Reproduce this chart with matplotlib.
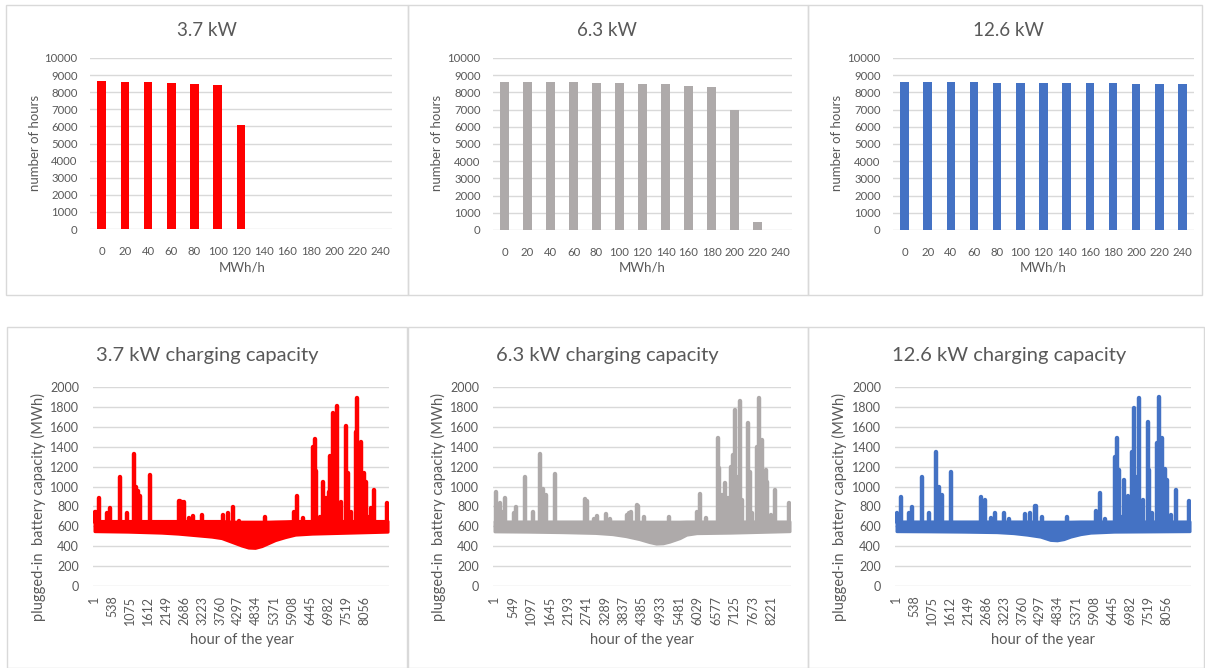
import numpy as np
import matplotlib.pyplot as plt
from matplotlib.patches import Rectangle

plt.rcParams['font.family'] = ['Lato', 'DejaVu Sans']

W, H = 1205, 668
TXT = '#595959'
GRID = '#d9d9d9'

# top row: hours per MWh/h bin
bins = [0, 20, 40, 60, 80, 100, 120, 140, 160, 180, 200, 220, 240]
hours_37 = [8635, 8616, 8577, 8538, 8499, 8440, 6101, 0, 0, 0, 0, 0, 0]
hours_63 = [8616, 8577, 8577, 8577, 8538, 8538, 8499, 8460, 8401, 8285, 6979, 487, 0]
hours_126 = [8621, 8583, 8583, 8583, 8544, 8544, 8544, 8544, 8544, 8544, 8505, 8505, 8466]

# bottom row: hourly band (low / high envelope) + spikes
env_h_37 = [1, 1000, 2000, 2500, 3000, 3500, 3800, 4000, 4200, 4400, 4600, 4800, 5000,
            5200, 5400, 5700, 6000, 6500, 8760]
low_37 = [550, 545, 535, 525, 510, 495, 480, 455, 430, 405, 385, 382, 400,
          430, 460, 490, 515, 525, 545]
high_37 = [655, 655, 655, 655, 655, 655, 655, 650, 648, 648, 648, 648, 648,
           648, 650, 652, 655, 655, 655]

env_h_63 = [1, 1000, 2000, 3000, 3500, 3900, 4300, 4600, 4800, 5000, 5200, 5500,
            5700, 6000, 7000, 8760]
low_63 = [548, 545, 540, 532, 520, 500, 470, 440, 425, 428, 445, 480,
          515, 530, 535, 550]
high_63 = [650, 650, 650, 650, 650, 650, 648, 648, 648, 648, 648, 648,
           650, 650, 650, 650]

env_h_126 = [1, 1000, 2000, 3000, 3500, 3900, 4300, 4600, 4800, 5000, 5200, 5500,
             5800, 6500, 8760]
low_126 = [550, 548, 545, 540, 530, 515, 495, 462, 458, 470, 495, 520,
           535, 545, 550]
high_126 = [650, 650, 650, 650, 650, 650, 648, 648, 648, 648, 648, 650,
            650, 650, 650]

spike_h_37 = [30, 59, 138, 385, 454, 769, 977, 1193, 1240, 1292,
              1371, 1657, 2515, 2560, 2620, 2663, 2841, 2940, 3226, 3857,
              3986, 4134, 4321, 5090, 5958, 6057, 6224, 6540, 6600, 6630,
              6738, 6816, 6915, 6994, 7044, 7090, 7133, 7190, 7260, 7359,
              7507, 7586, 7655, 7803, 7853, 7951, 8050, 8119, 8198, 8277,
              8346, 8740]
spike_v_37 = [740, 747, 884, 733, 787, 1095, 733, 1327, 1000, 958,
              905, 1116, 854, 850, 845, 840, 687, 703, 713, 713,
              737, 791, 657, 690, 747, 908, 687, 1400, 1474, 1160,
              697, 1042, 881, 948, 1307, 1100, 1735, 1000, 1809, 848,
              1608, 1132, 747, 1551, 1886, 1451, 1132, 1049, 697, 780,
              965, 831]

spike_h_63 = [59, 157, 225, 304, 578, 647, 921, 1136, 1352, 1450,
              1529, 1793, 2675, 2754, 2949, 3047, 3322, 3440, 3930, 3999,
              4068, 4224, 4253, 4439, 5174, 6017, 6115, 6282, 6625, 6674,
              6752, 6840, 6919, 7017, 7076, 7143, 7220, 7290, 7359, 7525,
              7584, 7653, 7780, 7848, 7946, 8045, 8094, 8192, 8339, 8731]
spike_v_63 = [948, 837, 747, 881, 737, 791, 1095, 740, 1327, 971,
              915, 1126, 874, 854, 670, 703, 720, 670, 713, 737,
              747, 814, 807, 690, 690, 747, 921, 687, 1484, 1183,
              918, 1032, 881, 1200, 1318, 1769, 1100, 1863, 864, 1635,
              1150, 730, 1400, 1886, 1468, 1166, 1049, 713, 965, 838]

spike_h_126 = [30, 128, 376, 465, 761, 968, 1184, 1283, 1352, 1628,
               2516, 2634, 2831, 2939, 3205, 3353, 3831, 3980, 4147, 4176,
               4344, 5102, 5951, 6080, 6218, 6543, 6592, 6661, 6730, 6809,
               6927, 7026, 7106, 7180, 7254, 7353, 7501, 7550, 7629, 7777,
               7846, 7945, 8024, 8093, 8191, 8339, 8734]
spike_v_126 = [737, 891, 737, 797, 1099, 737, 1350, 991, 915, 1142,
               891, 864, 680, 730, 730, 670, 720, 737, 804, 804,
               697, 690, 754, 931, 670, 1300, 1484, 1166, 697, 1065,
               905, 1350, 1786, 1100, 1886, 864, 1652, 1166, 730, 1434,
               1896, 1484, 1172, 1065, 713, 965, 858]

ticks_a = list(range(1, 8100, 537))
ticks_b = list(range(1, 8300, 548))

RED, GREY, BLUE = '#ff0000', '#aeaaaa', '#4472c4'


def box(l, t, r, b):
    return [l / W, 1 - b / H, (r - l) / W, (b - t) / H]


def ftext(x, y, s, **kw):
    fig.text(x / W, 1 - y / H, s, color=TXT, ha='center', va='center', **kw)


def clean(ax):
    for s in ax.spines.values():
        s.set_visible(False)
    ax.tick_params(length=0, colors=TXT)
    ax.grid(axis='y', color=GRID, lw=1)
    ax.set_axisbelow(True)


fig = plt.figure(figsize=(W / 100, H / 100), dpi=100)

# panel frames
for l, t, r, b in [(6, 5, 408, 295), (408, 5, 808, 295), (808, 5, 1202, 295),
                   (7, 327, 407, 668), (408, 327, 808, 668), (808, 327, 1204, 668)]:
    fig.add_artist(Rectangle((l / W, 1 - b / H), (r - l) / W, (b - t) / H,
                             transform=fig.transFigure, fill=False,
                             edgecolor=GRID, lw=1))

top = [
    ((90, 58, 392, 229), hours_37, RED, '3.7 kW', 207, 35, 242),
    ((493, 58, 792, 230), hours_63, GREY, '6.3 kW', 607, 437, 642),
    ((893, 58, 1194, 230), hours_126, BLUE, '12.6 kW', 1008, 837, 1043),
]
for rect, vals, col, title, tx, yx, xx in top:
    ax = fig.add_axes(box(*rect))
    clean(ax)
    ax.bar(bins, vals, width=7.4, color=col)
    ax.set_xlim(-10, 250)
    ax.set_ylim(0, 10000)
    ax.set_yticks(range(0, 10001, 1000))
    ax.set_xticks(bins)
    ax.tick_params(labelsize=8.2)
    ax.tick_params(axis='x', pad=12)
    ax.tick_params(axis='y', pad=9)
    ftext(tx, 30, title, fontsize=13.5)
    ftext(yx, 143, 'number of hours', fontsize=9.5, rotation=90)
    ftext(xx, 267, 'MWh/h', fontsize=9.5)

bottom = [
    ((93, 387, 389, 586), env_h_37, low_37, high_37, spike_h_37, spike_v_37, RED,
     ticks_a, '3.7 kW charging capacity', 207, 38, 242),
    ((493, 387, 791, 586), env_h_63, low_63, high_63, spike_h_63, spike_v_63, GREY,
     ticks_b, '6.3 kW charging capacity', 607, 438, 642),
    ((895, 387, 1191, 586), env_h_126, low_126, high_126, spike_h_126, spike_v_126, BLUE,
     ticks_a, '12.6 kW charging capacity', 1009, 839, 1043),
]
for rect, eh, lo, hi, sh, sv, col, ticks, title, tx, yx, xx in bottom:
    ax = fig.add_axes(box(*rect))
    clean(ax)
    ax.fill_between(eh, lo, hi, color=col, lw=2, edgecolor=col)
    ax.vlines(sh, 640, sv, color=col, lw=3.2, capstyle='round')
    ax.set_xlim(-40, 8800)
    ax.set_ylim(0, 2000)
    ax.set_yticks(range(0, 2001, 200))
    ax.set_xticks(ticks)
    ax.set_xticklabels([str(t) for t in ticks], rotation=90)
    ax.tick_params(labelsize=9)
    ax.tick_params(axis='x', pad=7)
    ax.tick_params(axis='y', pad=10)
    ftext(tx, 355, title, fontsize=14.5)
    ftext(yx, 507, 'plugged-in  battery capacity (MWh)', fontsize=10.5, rotation=90)
    ftext(xx, 640, 'hour of the year', fontsize=10.5)

fig.savefig('out.png', dpi=100, facecolor='white')
